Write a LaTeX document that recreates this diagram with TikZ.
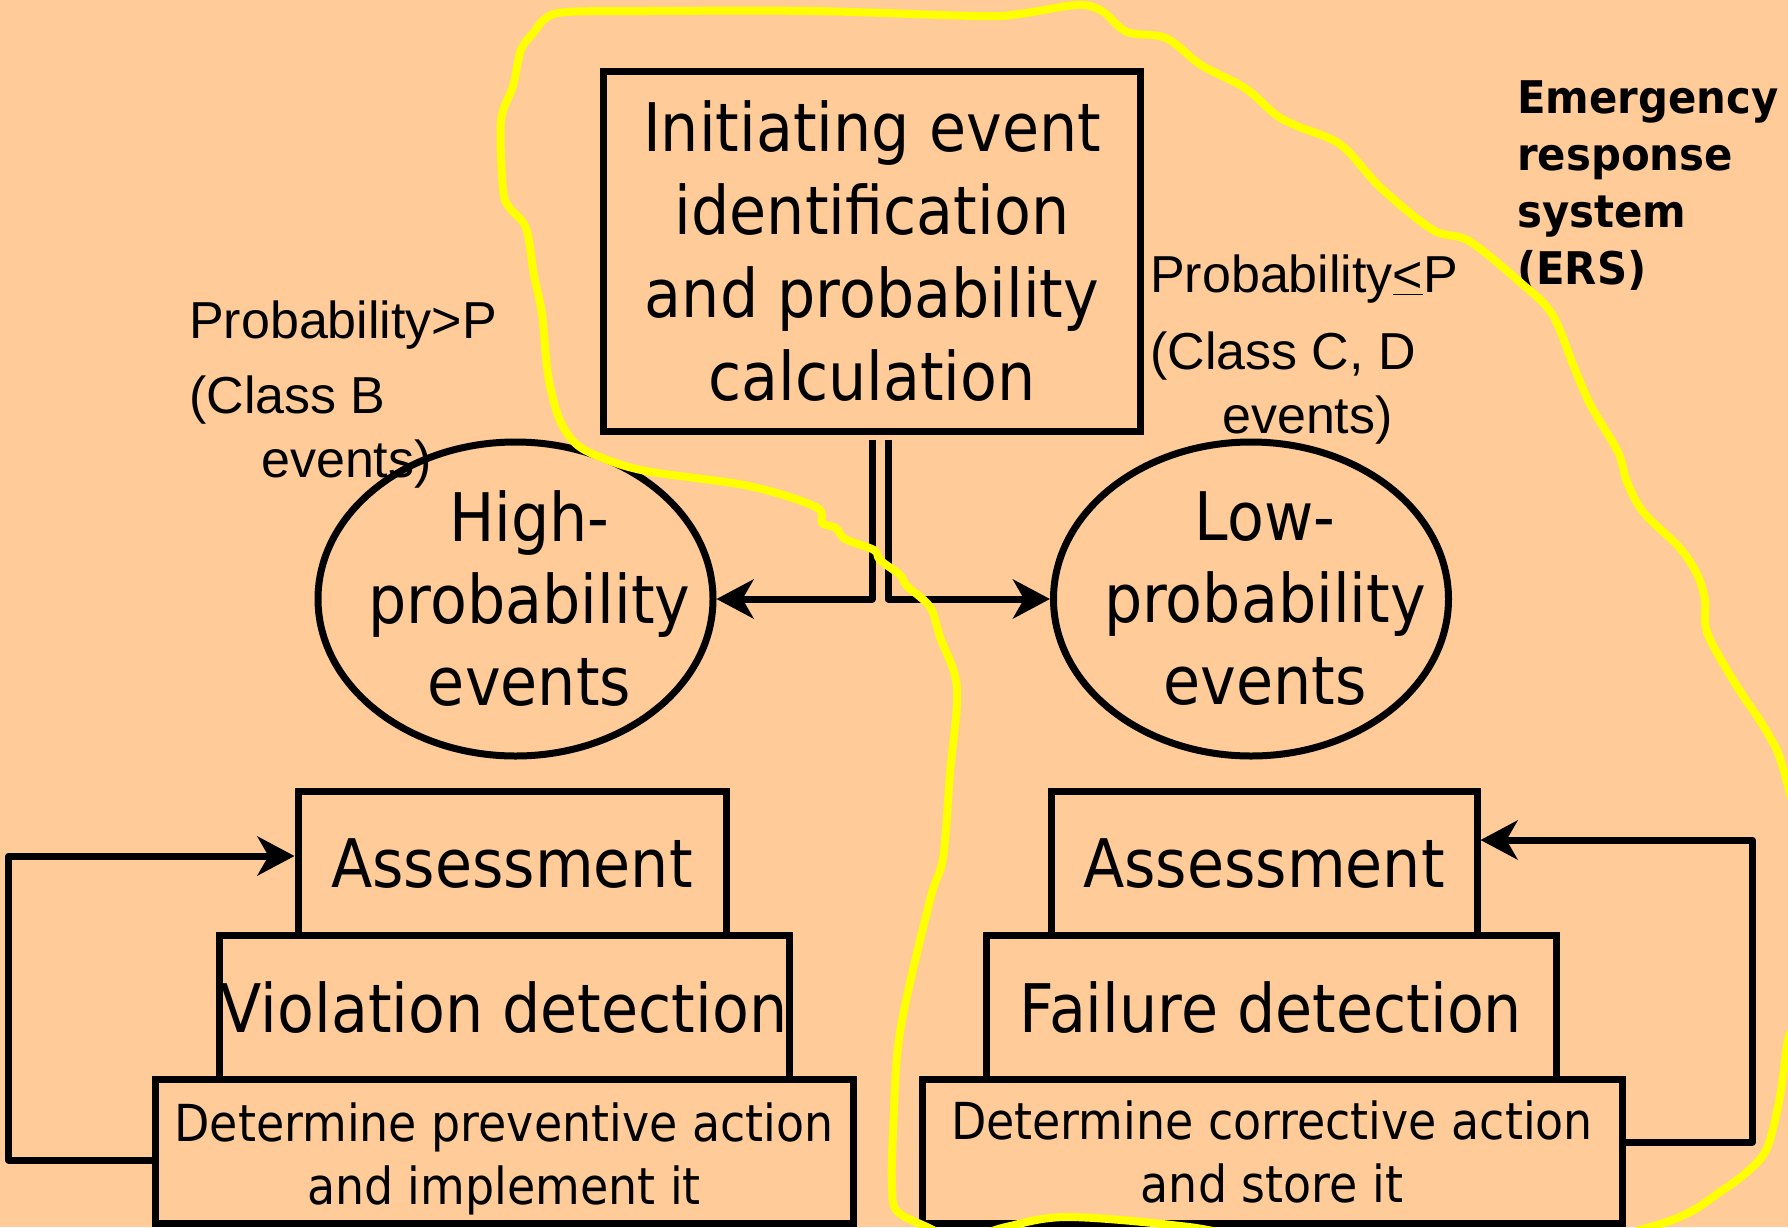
\documentclass[tikz,border=0pt]{standalone}
\usepackage{fontspec}
\setmainfont[FakeStretch=0.9]{DejaVu Sans}
\newfontfamily\arialfont{Liberation Sans}
\newfontfamily\ersfont[FakeStretch=0.93]{DejaVu Sans}
\usetikzlibrary{arrows.meta,shapes.geometric,calc}
\definecolor{peach}{RGB}{255,204,153}
\definecolor{marker}{RGB}{255,255,0}
\tikzset{
    box/.style =    {rectangle,
                    draw=black,
                    text=black,
                    line width=7pt,
                    inner sep=0pt,
                    align=center,
                    minimum height=144pt,
                    font=\fontsize{67}{83}\selectfont},
    smallbox/.style = {box,
                    font=\fontsize{51}{63}\selectfont},
    evt/.style =    {ellipse,
                    draw=black,
                    line width=7pt,
                    inner sep=0pt,
                    minimum width=395pt,
                    minimum height=314pt},
    evtxt/.style =  {align=center,
                    inner sep=0pt,
                    text=black,
                    xshift=14pt,
                    font=\fontsize{67}{82}\selectfont},
    prob/.style =   {anchor=north west,
                    align=left,
                    inner sep=0pt,
                    text=black,
                    font=\arialfont\fontsize{52}{64}\selectfont},
    ers/.style =    {anchor=north west,
                    align=left,
                    inner sep=0pt,
                    text=black,
                    font=\ersfont\bfseries\fontsize{45}{57}\selectfont},
    link/.style =   {->,
                    draw=black,
                    line width=7pt,
                    line join=round},
    ersline/.style = {draw=marker,
                    line width=8pt,
                    line cap=round,
                    line join=round},
    >={Stealth[length=37pt,width=39pt,inset=11pt]}}

\begin{document}
\begin{tikzpicture}[x=1pt,y=-1pt]
    \useasboundingbox (0,0) rectangle (1788,1227);
    \fill[peach] (0,0) rectangle (1788,1227);
    \clip (0,0) rectangle (1788,1227);

    % top of the tree
    \node[box, minimum width=537pt, minimum height=360pt] (init) at (872,251)
        {Initiating event\\identification\\and probability\\calculation};
    \node[evt, label={[evtxt]center:{High-\\probability\\events}}] (high) at (515.5,599) {};
    \node[evt, label={[evtxt]center:{Low-\\probability\\events}}] (low) at (1251,599) {};

    % notes
    \node[prob] (probhigh) at (189,301) {Probability>P\\[11pt](Class B\\\hspace*{72pt}events)};
    \node[prob] (problow) at (1150,255) {Probability\underline{<}P\\[13pt](Class C, D\\\hspace*{72pt}events)};
    \node[ers] (ers) at (1517,80) {Emergency\\response\\system\\(ERS)};

    % left stack
    \node[box, minimum width=428pt] (assessL) at (512,863.5) {Assessment};
    \node[box, minimum width=570pt] (violL) at (504,1007.5) {Violation detection};
    \node[smallbox, minimum width=698pt] (prevL) at (504,1151.5)
        {\rule{0pt}{54pt}Determine preventive action\\and implement it};

    % right stack
    \node[box, minimum width=426pt] (assessR) at (1264,863.5) {Assessment};
    \node[box, minimum width=570pt] (failR) at (1271,1007.5) {Failure detection};
    \node[smallbox, minimum width=700pt] (corrR) at (1272,1151.5)
        {Determine corrective action\\and store it};

    \draw[link] ([yshift=-5pt]init.south) |- (high.east);
    \draw[link] ([xshift=16pt,yshift=-5pt]init.south) |- (low.west);
    \draw[link] ([yshift=-8.5pt]prevL.west) -- ++(-143,0) |- ([yshift=7.5pt]assessL.west);
    \draw[link] ([yshift=9.5pt]corrR.east) -- ++(127,0) |- ([yshift=23.5pt]assessR.east);

    % hand drawn ERS border
    \draw[ersline] plot[smooth cycle, tension=0.55] coordinates {
        (567,12) (646,11) (812,11) (977,16) (1019,14) (1077,5) (1102,11) (1127,32)
        (1166,38) (1201,65) (1245,88) (1276,115) (1297,126) (1341,145) (1381,188)
        (1433,230) (1469,241) (1521,283) (1552,314) (1574,367) (1591,406) (1618,452)
        (1627,482) (1644,513) (1679,547) (1697,574) (1705,600) (1707,632) (1733,680)
        (1767,732) (1783,768) (1800,850) (1800,1000) (1788,1040) (1780,1096)
        (1767,1148) (1747,1172) (1720,1192) (1690,1212) (1650,1227) (1550,1250)
        (1300,1245) (1189,1227) (1068,1217) (1006,1227) (960,1240) (927,1227)
        (897,1211) (892,1186) (893,1134) (900,1032) (930,900) (943,858) (950,773)
        (957,688) (940,637) (930,607) (907,586) (900,575) (880,560) (874,550)
        (845,539) (836,528) (822,523) (816,507) (749,486) (646,471) (600,457)
        (575,443) (559,418) (548,375) (542,314) (534,275) (526,228) (509,207)
        (503,189) (501,121) (513,86) (521,50) (534,32) (546,18)};
\end{tikzpicture}
\end{document}
